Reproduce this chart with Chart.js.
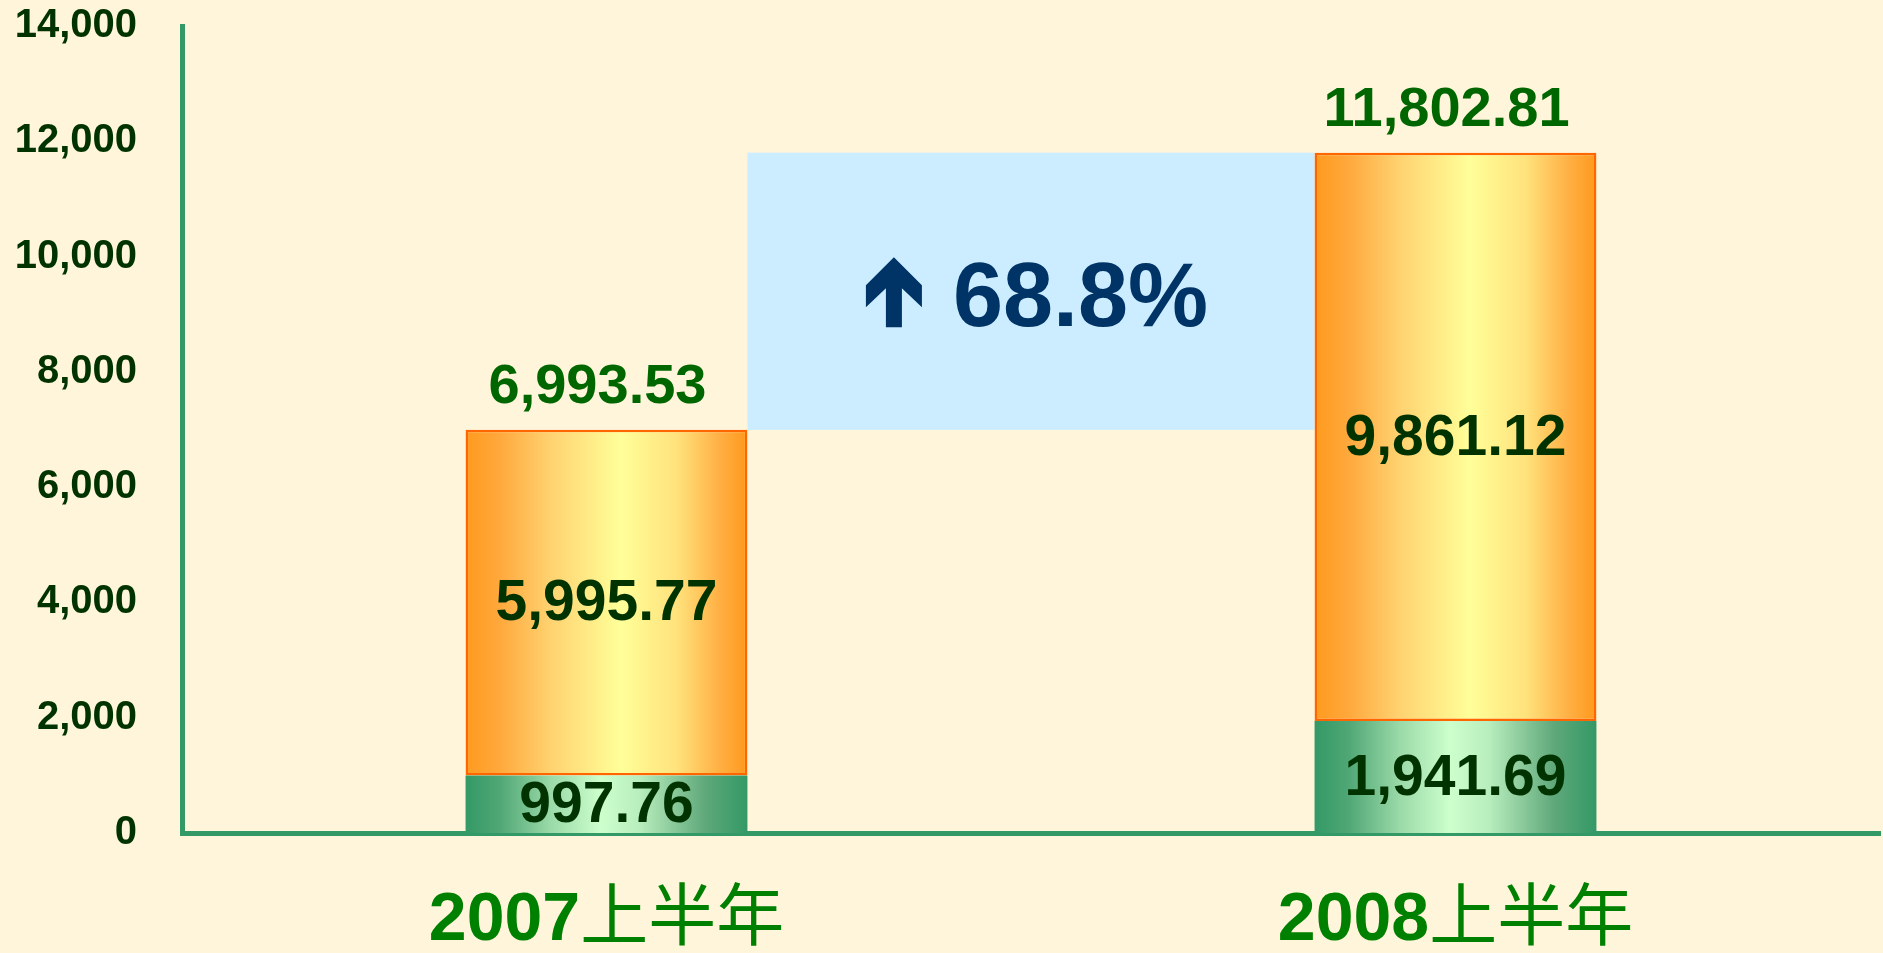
<!DOCTYPE html>
<html lang="zh">
<head>
<meta charset="UTF-8" />
<title>上半年 stacked bars</title>
<script src="https://cdn.jsdelivr.net/npm/chart.js@4"></script>
<style>
  * { margin: 0; padding: 0; box-sizing: border-box; }
  body { background: #FFF5DA; }
  .wrap { width: 1883px; height: 953px; position: relative; }
</style>
</head>
<body>
<div class="wrap"><canvas id="c"></canvas></div>
<script>
// data
const categories = ['2007上半年', '2008上半年'];
const greenValues = [997.76, 1941.69];
const orangeValues = [5995.77, 9861.12];
const totalValues = [6993.53, 11802.81];
const yMin = 0, yMax = 14000, yStep = 2000;

const BAR_PCT = 0.332;
const fmt = v => v.toLocaleString('en-US', { minimumFractionDigits: 2, maximumFractionDigits: 2 });

function barGradient(ctx, stops, fallback) {
    const chart = ctx.chart;
    if (!chart.chartArea) return fallback;
    const xs = chart.scales.x;
    const cx = xs.getPixelForValue(ctx.dataIndex);
    const half = xs.width / categories.length * BAR_PCT / 2;
    const g = chart.ctx.createLinearGradient(cx - half, 0, cx + half, 0);
    stops.forEach(s => g.addColorStop(s[0], s[1]));
    return g;
}

const orangeStops = [[0, '#FF9A1E'], [0.12, '#FFA83C'], [0.3, '#FFD270'], [0.55, '#FFFF99'], [0.75, '#FFE27C'], [0.9, '#FFB044'], [1, '#FF981C']];
const greenStops = [[0, '#339966'], [0.12, '#4FA775'], [0.3, '#9AD9A8'], [0.48, '#CCFFCC'], [0.62, '#B8EDBD'], [0.85, '#5FA87A'], [1, '#339966']];

// growth box between the two bars
const growthBox = {
    id: 'growthBox',
    beforeDatasetsDraw(chart) {
        const { ctx, scales: { y } } = chart;
        const meta = chart.getDatasetMeta(1);
        const e0 = meta.data[0], e1 = meta.data[1];
        const left = e0.x + e0.width / 2, right = e1.x - e1.width / 2;
        const top = y.getPixelForValue(totalValues[1]);
        const bottom = y.getPixelForValue(totalValues[0]);
        ctx.save();
        ctx.fillStyle = '#CCECFF';
        ctx.fillRect(left, top, right - left, bottom - top);

        const pct = ((totalValues[1] / totalValues[0] - 1) * 100).toFixed(1) + '%';
        ctx.font = 'bold 90px "Liberation Sans", Arial, sans-serif';
        const tw = ctx.measureText(pct).width;
        const aw = 56, ah = 70, gap = 31;
        const cx = (left + right) / 2 + 6, cy = (top + bottom) / 2;
        const x0 = cx - (aw + gap + tw) / 2;
        const base = cy + 35;
        const ay = base - 69;
        ctx.fillStyle = '#003366';
        ctx.beginPath();
        ctx.moveTo(x0 + 28, ay);
        ctx.lineTo(x0 + 56, ay + 28);
        ctx.lineTo(x0 + 56, ay + 50);
        ctx.lineTo(x0 + 36, ay + 31);
        ctx.lineTo(x0 + 36, ay + ah);
        ctx.lineTo(x0 + 20, ay + ah);
        ctx.lineTo(x0 + 20, ay + 31);
        ctx.lineTo(x0, ay + 50);
        ctx.lineTo(x0, ay + 28);
        ctx.closePath();
        ctx.fill();
        ctx.textAlign = 'left';
        ctx.textBaseline = 'alphabetic';
        ctx.fillText(pct, x0 + aw + gap, base);
        ctx.restore();
    }
};

// value labels inside bars and totals on top
const valueLabels = {
    id: 'valueLabels',
    afterDatasetsDraw(chart) {
        const ctx = chart.ctx;
        ctx.save();
        ctx.font = 'bold 57px "Liberation Sans", Arial, sans-serif';
        ctx.textAlign = 'center';
        chart.data.datasets.forEach((ds, di) => {
            chart.getDatasetMeta(di).data.forEach((el, i) => {
                ctx.fillStyle = '#003300';
                ctx.textBaseline = 'middle';
                ctx.fillText(fmt(ds.data[i]), el.x, (el.y + el.base) / 2 + 2);
            });
        });
        ctx.font = 'bold 56px "Liberation Sans", Arial, sans-serif';
        chart.getDatasetMeta(1).data.forEach((el, i) => {
            ctx.fillStyle = '#006600';
            ctx.textBaseline = 'alphabetic';
            ctx.fillText(fmt(totalValues[i]), el.x - 9, el.y - 27);
        });
        ctx.restore();
    }
};

// category labels: bold digits + lighter CJK
const catLabels = {
    id: 'catLabels',
    afterDraw(chart) {
        const { ctx, scales: { x }, chartArea } = chart;
        const numFont = 'bold 68px "Liberation Sans", Arial, sans-serif';
        const cjkFont = '68px "Noto Sans CJK SC", "Noto Sans CJK TC", sans-serif';
        ctx.save();
        ctx.fillStyle = '#008000';
        ctx.textBaseline = 'alphabetic';
        ctx.textAlign = 'left';
        categories.forEach((lab, i) => {
            const m = lab.match(/^[0-9]+/);
            const num = m ? m[0] : '';
            const rest = lab.slice(num.length);
            ctx.font = numFont;
            const w1 = ctx.measureText(num).width;
            ctx.font = cjkFont;
            const w2 = ctx.measureText(rest).width;
            const cx = x.getPixelForValue(i);
            const sx = cx - (w1 + w2) / 2;
            const by = chartArea.bottom + 107;
            ctx.font = numFont;
            ctx.fillText(num, sx, by);
            ctx.font = cjkFont;
            ctx.fillText(rest, sx + w1, by);
        });
        ctx.restore();
    }
};

const bgPlugin = {
    id: 'bg',
    beforeDraw(chart) {
        const ctx = chart.ctx;
        ctx.save();
        ctx.fillStyle = '#FFF5DA';
        ctx.fillRect(0, 0, chart.width, chart.height);
        ctx.restore();
    }
};

new Chart(document.getElementById('c'), {
    type: 'bar',
    data: {
        labels: categories,
        datasets: [
            {
                label: 'green',
                data: greenValues,
                backgroundColor: ctx => barGradient(ctx, greenStops, '#66BB88'),
                borderWidth: 0,
                categoryPercentage: 1,
                barPercentage: BAR_PCT
            },
            {
                label: 'orange',
                data: orangeValues,
                backgroundColor: ctx => barGradient(ctx, orangeStops, '#FFCC66'),
                borderColor: '#FF6600',
                borderWidth: 2.5,
                borderSkipped: false,
                categoryPercentage: 1,
                barPercentage: BAR_PCT
            }
        ]
    },
    options: {
        responsive: true,
        maintainAspectRatio: false,
        animation: false,
        layout: { padding: { top: 26, right: 3, left: 0, bottom: 0 } },
        plugins: {
            legend: { display: false },
            tooltip: { enabled: false }
        },
        scales: {
            x: {
                stacked: true,
                grid: { display: false, drawTicks: false },
                border: { display: true, color: '#339966', width: 5 },
                ticks: { display: false },
                afterFit(s) { s.height = 120; s.paddingLeft = 0; s.paddingRight = 0; }
            },
            y: {
                stacked: true,
                min: yMin,
                max: yMax,
                grid: { display: false, drawTicks: false },
                border: { display: true, color: '#339966', width: 5 },
                ticks: {
                    stepSize: yStep,
                    padding: 45,
                    color: '#003300',
                    font: { family: '"Liberation Sans", Arial, sans-serif', size: 40, weight: 'bold' },
                    callback: v => v.toLocaleString('en-US')
                },
                afterFit(s) { s.width = 182; s.paddingTop = 0; s.paddingBottom = 0; }
            }
        }
    },
    plugins: [bgPlugin, growthBox, valueLabels, catLabels]
});
</script>
</body>
</html>
